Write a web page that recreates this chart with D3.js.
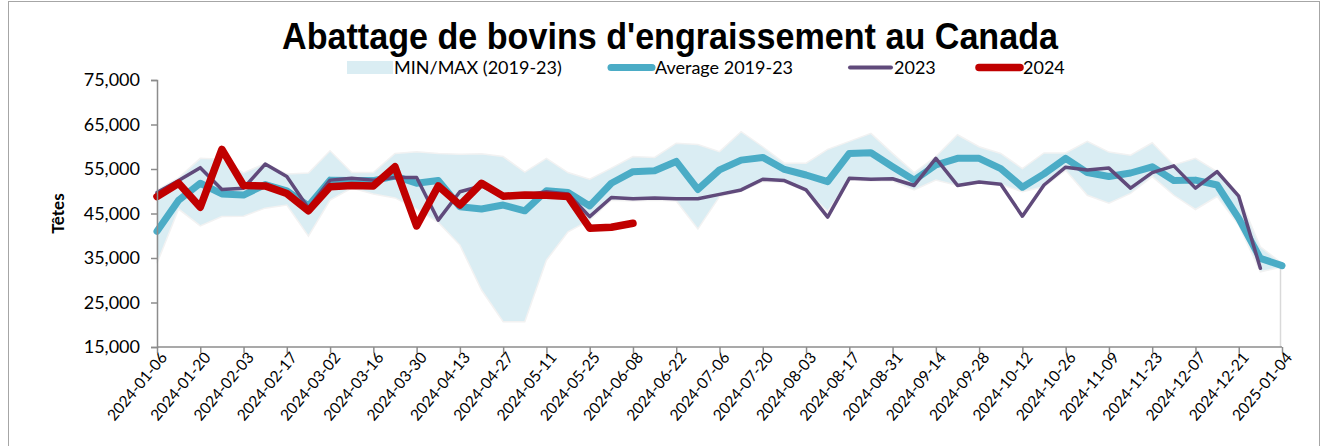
<!DOCTYPE html>
<html>
<head>
<meta charset="utf-8">
<script src="https://cdn.jsdelivr.net/npm/d3@7"></script>
<style>
  body { margin: 0; background: #fff; }
  svg { display: block; }
</style>
</head>
<body>
<div id="chart"></div>
<script>
// weekly categories (Saturdays)
const weeks = [
  "2024-01-06", "2024-01-13", "2024-01-20", "2024-01-27", "2024-02-03", "2024-02-10", "2024-02-17", "2024-02-24",
  "2024-03-02", "2024-03-09", "2024-03-16", "2024-03-23", "2024-03-30", "2024-04-06", "2024-04-13", "2024-04-20",
  "2024-04-27", "2024-05-04", "2024-05-11", "2024-05-18", "2024-05-25", "2024-06-01", "2024-06-08", "2024-06-15",
  "2024-06-22", "2024-06-29", "2024-07-06", "2024-07-13", "2024-07-20", "2024-07-27", "2024-08-03", "2024-08-10",
  "2024-08-17", "2024-08-24", "2024-08-31", "2024-09-07", "2024-09-14", "2024-09-21", "2024-09-28", "2024-10-05",
  "2024-10-12", "2024-10-19", "2024-10-26", "2024-11-02", "2024-11-09", "2024-11-16", "2024-11-23", "2024-11-30",
  "2024-12-07", "2024-12-14", "2024-12-21", "2024-12-28", "2025-01-04"
];

const minValues = [
  33800, 46000, 42200, 44300, 44400, 46200, 46900, 39900, 48000, 50700, 49400, 48500, 46000, 43000, 37900, 27800,
  20700, 20700, 34500, 40900, 43500, 48000, 47800, 48000, 47800, 41500, 48800, 50000, 52200, 52000, 50000, 45500,
  52500, 52300, 52300, 50300, 52500, 51300, 52000, 51500, 49900, 51000, 54700, 49100, 47300, 49500, 53300, 49100,
  45900, 48800, 42400, 31900, 33000
];

const maxValues = [
  50300, 53000, 57400, 57200, 54100, 56300, 53900, 54100, 59100, 54200, 54200, 58500, 58900, 58500, 58300, 58400,
  57800, 54300, 57400, 54200, 52700, 55200, 57800, 57600, 60800, 60500, 58900, 63400, 60000, 56300, 56300, 59400,
  61200, 63000, 58500, 54200, 57800, 62700, 60000, 58500, 55100, 58600, 58600, 61200, 58800, 58100, 60900, 55900,
  57400, 54400, 49000, 37500, 33800
];

const avgValues = [
  41000, 48000, 51800, 49400, 49150, 51500, 50100, 46700, 52500, 52400, 52400, 53400, 51800, 52400, 46500, 46000,
  46900, 45600, 50100, 49700, 46700, 51800, 54400, 54600, 56700, 50400, 54800, 57000, 57600, 54900, 53650, 52150,
  58500, 58650, 55500, 52500, 55900, 57400, 57400, 55100, 50900, 53900, 57400, 54200, 53300, 54100, 55500, 52400,
  52500, 51400, 43900, 34900, 33300
];

const values2023 = [
  49700, 52400, 55300, 50400, 50700, 56100, 53300, 46200, 52500, 52900, 52500, 53100, 53100, 43500, 49900, 51200,
  48900, 49100, 49900, 49400, 44300, 48600, 48300, 48500, 48300, 48300, 49300, 50300, 52700, 52400, 50300, 44200,
  52900, 52700, 52800, 51300, 57400, 51300, 52100, 51550, 44400, 51400, 55400, 54800, 55200, 50700, 54200, 55700,
  50700, 54400, 48900, 32700
];

const values2024 = [
  48800, 51800, 46400, 59400, 51300, 51200, 49500, 45600, 51000, 51300, 51200, 55500, 42200, 51200, 46900, 51800,
  48900, 49150, 49100, 48800, 41700, 41900, 42800
];

const yTicks = [15000, 25000, 35000, 45000, 55000, 65000, 75000];
const xTickWeeks = weeks.filter((d, i) => i % 2 === 0);

const colors = { band: "#daedf3", avg: "#4bacc6", y2023: "#604a7b", y2024: "#c00000" };

const width = 1331;
const height = 446;
const margin = ({ top: 80, right: 46, bottom: 99, left: 157 });

const svg = d3.select("#chart")
  .append("svg")
  .attr("width", width)
  .attr("height", height)
  .attr("viewBox", [0, 0, width, height]);

// outer frame
svg.append("rect")
  .attr("x", 8.5).attr("y", 1.5)
  .attr("width", 1311).attr("height", 450)
  .attr("fill", "none")
  .attr("stroke", "#a6a6a6");

const xScale = d3.scalePoint()
  .domain(weeks)
  .range([margin.left, width - margin.right - 3]);

const yScale = d3.scaleLinear()
  .domain([15000, 75000])
  .range([height - margin.bottom, margin.top]);

// title
svg.append("text")
  .attr("x", 670)
  .attr("y", 49)
  .attr("text-anchor", "middle")
  .attr("font-family", "Liberation Sans, Arial, sans-serif")
  .attr("font-weight", "bold")
  .attr("font-size", 36)
  .attr("textLength", 776)
  .attr("lengthAdjust", "spacingAndGlyphs")
  .text("Abattage de bovins d'engraissement au Canada");

// min / max band
const band = weeks.map((d, i) => ({ week: d, min: minValues[i], max: maxValues[i] }));
svg.append("path")
  .datum(band)
  .attr("fill", colors.band)
  .attr("stroke", "#f2f2f2")
  .attr("stroke-width", 1.5)
  .attr("d", d3.area()
    .x(d => xScale(d.week))
    .y0(d => yScale(d.min))
    .y1(d => yScale(d.max)));

// right edge of the band
svg.append("line")
  .attr("x1", xScale(weeks[weeks.length - 1]) - 1.5)
  .attr("x2", xScale(weeks[weeks.length - 1]) - 1.5)
  .attr("y1", yScale(minValues[minValues.length - 1]))
  .attr("y2", yScale(15000))
  .attr("stroke", "#d9d9d9")
  .attr("stroke-width", 1.5);

const line = d3.line()
  .x(d => xScale(d.week))
  .y(d => yScale(d.value));

const series = [
  { key: "avg", values: avgValues, color: colors.avg, width: 7 },
  { key: "2023", values: values2023, color: colors.y2023, width: 3.5 },
  { key: "2024", values: values2024, color: colors.y2024, width: 7.5 }
];

svg.append("g")
  .selectAll("path")
  .data(series)
  .join("path")
  .attr("fill", "none")
  .attr("stroke", d => d.color)
  .attr("stroke-width", d => d.width)
  .attr("stroke-linejoin", "round")
  .attr("stroke-linecap", "round")
  .attr("d", d => line(d.values.map((v, i) => ({ week: weeks[i], value: v }))));

// axes
const yAxis = g => g
  .attr("transform", `translate(${margin.left},0)`)
  .call(d3.axisLeft(yScale)
    .tickValues(yTicks)
    .tickFormat(d3.format(","))
    .tickSize(6)
    .tickPadding(11))
  .call(g => g.selectAll("line, path").attr("stroke", "#8c8c8c").attr("stroke-width", 1.5))
  .call(g => g.selectAll("text")
    .attr("font-family", "Lato, 'Noto Sans', sans-serif")
    .attr("font-size", 18)
    .attr("fill", "#000"));

const xAxis = g => g
  .attr("transform", `translate(0,${height - margin.bottom})`)
  .call(d3.axisBottom(xScale)
    .tickValues(xTickWeeks)
    .tickSizeOuter(0)
    .tickSize(6))
  .call(g => g.select(".domain").attr("d", `M${margin.left},0H${xScale(weeks[weeks.length - 1])}`))
  .call(g => g.selectAll("line, path").attr("stroke", "#8c8c8c").attr("stroke-width", 1.5))
  .call(g => g.selectAll("text")
    .attr("font-family", "Lato, 'Noto Sans', sans-serif")
    .attr("font-size", 15.5)
    .attr("fill", "#000")
    .attr("text-anchor", "end")
    .attr("dx", "-0.1em")
    .attr("dy", "0.4em")
    .attr("transform", "rotate(-50)"));

svg.append("g").call(xAxis);
svg.append("g").call(yAxis);

svg.append("text")
  .attr("transform", `translate(64,${yScale(45000)}) rotate(-90)`)
  .attr("text-anchor", "middle")
  .attr("font-family", "Lato, 'Noto Sans', sans-serif")
  .attr("font-weight", "bold")
  .attr("font-size", 17)
  .text("Têtes");

// legend
const legendItems = [
  { label: "MIN/MAX (2019-23)", x: 347, type: "rect", color: colors.band },
  { label: "Average 2019-23", x: 608, type: "line", color: colors.avg, width: 7 },
  { label: "2023", x: 847, type: "line", color: colors.y2023, width: 4 },
  { label: "2024", x: 976, type: "line", color: colors.y2024, width: 7.5 }
];

const legend = svg.append("g")
  .attr("font-family", "Lato, 'Noto Sans', sans-serif")
  .attr("font-size", 18);

legendItems.forEach(d => {
  if (d.type === "rect") {
    legend.append("rect")
      .attr("x", d.x).attr("y", 61)
      .attr("width", 46).attr("height", 13)
      .attr("fill", d.color);
  } else {
    legend.append("line")
      .attr("x1", d.x + 3).attr("x2", d.x + 44)
      .attr("y1", 67.5).attr("y2", 67.5)
      .attr("stroke", d.color)
      .attr("stroke-width", d.width)
      .attr("stroke-linecap", "round");
  }
  legend.append("text")
    .attr("x", d.x + 47)
    .attr("y", 74)
    .text(d.label);
});
</script>
</body>
</html>
